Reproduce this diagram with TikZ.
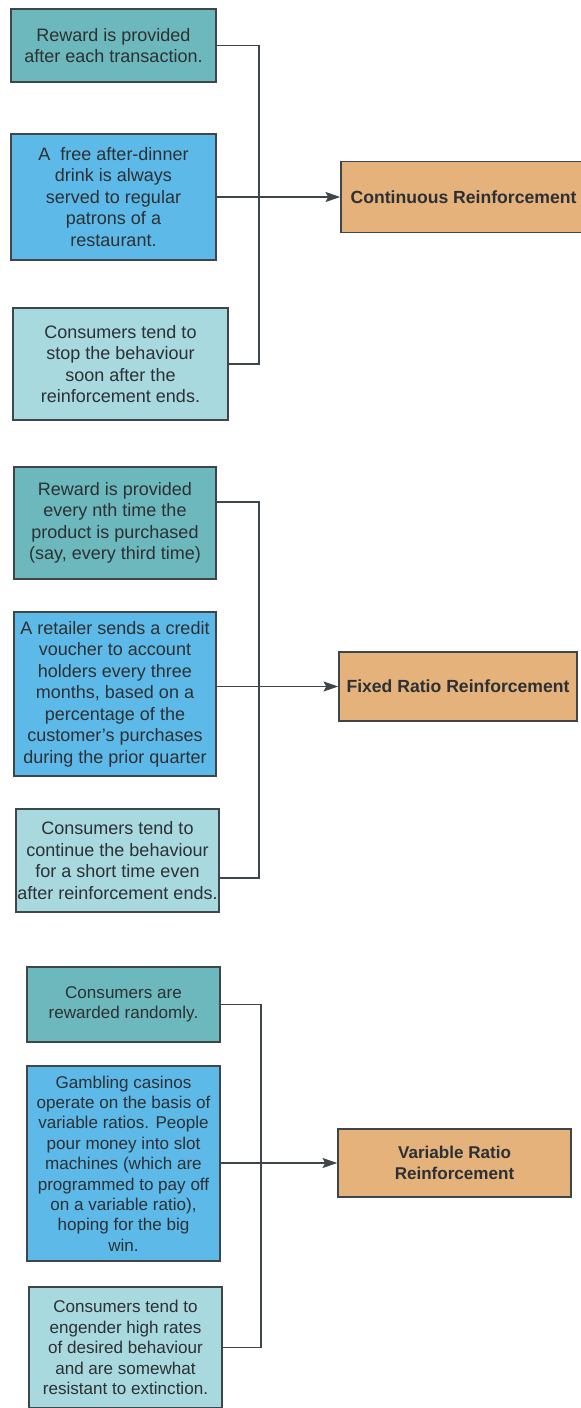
\documentclass[tikz,border=0pt]{standalone}
\usepackage{fontspec}
\setmainfont{Liberation Sans}
\usetikzlibrary{arrows.meta}
\definecolor{tealbox}{RGB}{108,184,188}
\definecolor{bluebox}{RGB}{93,185,232}
\definecolor{lightbox}{RGB}{167,217,222}
\definecolor{orangebox}{RGB}{228,178,122}
\definecolor{edgegray}{RGB}{62,70,75}
\definecolor{textgray}{RGB}{45,48,52}
\begin{document}
\begin{tikzpicture}[x=0.75pt,y=-0.75pt,
  box/.style={draw=edgegray, line width=1.2pt, align=center, text=textgray, inner sep=0pt,
    font=\fontsize{13.5pt}{16.1pt}\selectfont},
  boxs/.style={box, font=\fontsize{12.8pt}{15.3pt}\selectfont},
  tbox/.style={fill=tealbox},
  bbox/.style={fill=bluebox},
  lbox/.style={fill=lightbox},
  obox/.style={draw=edgegray, line width=1.2pt, fill=orangebox, align=center, text=textgray, inner sep=0pt,
    font=\fontsize{13.2pt}{15.8pt}\selectfont\bfseries},
  conn/.style={draw=edgegray, line width=1pt},
  arr/.style={-{Stealth[length=11pt,width=7.5pt,inset=2pt]}}
]
\clip (0,0) rectangle (581,1408);
\fill[white] (0,0) rectangle (581,1408);

% ---------- Section 1 ----------
\node[box,tbox,minimum width=205*0.75pt,minimum height=73*0.75pt] (a1) at (113.5,45.5)
  {Reward is provided\\after each transaction.};
\node[box,bbox,minimum width=205*0.75pt,minimum height=126*0.75pt] (b1) at (113.5,197)
  {A\ \ free after-dinner\\drink is always\\served to regular\\patrons of a\\restaurant.};
\node[box,lbox,minimum width=215*0.75pt,minimum height=112*0.75pt] (c1) at (120.5,364)
  {Consumers tend to\\stop the behaviour\\soon after the\\reinforcement ends.};
\node[obox,minimum width=245*0.75pt,minimum height=71*0.75pt] (o1) at (463.5,197)
  {Continuous Reinforcement};
\coordinate (j1) at (259,197);
\draw[conn] (a1.east) -| (j1) |- (c1.east);
\draw[conn,arr] (b1.east |- o1.west) -- (o1.west);

% ---------- Section 2 ----------
\node[box,tbox,minimum width=202*0.75pt,minimum height=112*0.75pt] (a2) at (115,523)
  {Reward is provided\\every nth time the\\product is purchased\\(say, every third time)};
\node[box,bbox,minimum width=202*0.75pt,minimum height=164*0.75pt] (b2) at (115,694)
  {A retailer sends a credit\\voucher to account\\holders every three\\months, based on a\\percentage of the\\customer's purchases\\during the prior quarter};
\node[box,lbox,minimum width=203*0.75pt,minimum height=103*0.75pt] (c2) at (117.5,860.5)
  {Consumers tend to\\continue the behaviour\\for a short time even\\after reinforcement ends.};
\node[obox,minimum width=238*0.75pt,minimum height=69*0.75pt] (o2) at (458,686.5)
  {Fixed Ratio Reinforcement};
\coordinate (j2) at (259,687);
\draw[conn] ([yshift=15.75pt]a2.east) -| (j2) |- ([yshift=-13.1pt]c2.east);
\draw[conn,arr] (b2.east |- o2.west) -- (o2.west);

% ---------- Section 3 ----------
\node[boxs,tbox,minimum width=193*0.75pt,minimum height=75*0.75pt] (a3) at (123.5,1004.5)
  {Consumers are\\rewarded randomly.};
\node[boxs,bbox,minimum width=193*0.75pt,minimum height=195*0.75pt] (b3) at (123.5,1163.5)
  {Gambling casinos\\operate on the basis of\\variable ratios. People\\pour money into slot\\machines (which are\\programmed to pay off\\on a variable ratio),\\hoping for the big\\win.};
\node[boxs,lbox,minimum width=193*0.75pt,minimum height=121*0.75pt] (c3) at (125.5,1347.5)
  {Consumers tend to\\engender high rates\\of desired behaviour\\and are somewhat\\resistant to extinction.};
\node[obox,font=\fontsize{12.8pt}{15.3pt}\selectfont\bfseries,minimum width=233*0.75pt,minimum height=68*0.75pt] (o3) at (454.5,1163)
  {Variable Ratio\\Reinforcement};
\coordinate (j3) at (261,1163);
\draw[conn] (a3.east) -| (j3) |- (c3.east);
\draw[conn,arr] (b3.east |- o3.west) -- (o3.west);
\end{tikzpicture}
\end{document}
